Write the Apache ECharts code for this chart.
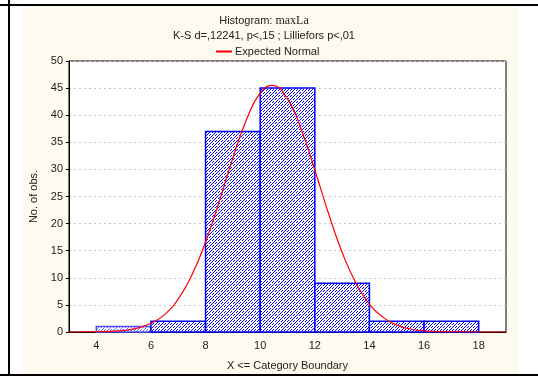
<!DOCTYPE html>
<html><head><meta charset="utf-8">
<script src="https://cdn.jsdelivr.net/npm/echarts@6/dist/echarts.min.js"></script>
<style>html,body{margin:0;padding:0;background:#fff}#c{width:538px;height:376px}</style>
</head><body><div id="c"></div>
<script>
// Histogram bins (X <= category boundary)
var binStart = [4, 6, 8, 10, 12, 14, 16];
var binEnd   = [6, 8, 10, 12, 14, 16, 18];
var counts   = [1, 2, 37, 45, 9, 2, 2];
// Expected normal curve
var curveX = [3, 3.5, 4, 4.5, 5, 5.5, 6, 6.5, 7, 7.5, 8, 8.5, 9, 9.5, 10, 10.43, 11, 11.5, 12, 12.5, 13, 13.5, 14, 14.5, 15, 15.5, 16, 16.5, 17, 17.5, 18, 18.5, 19];
var curveY = [0, 0.01, 0.04, 0.11, 0.29, 0.72, 1.6, 3.2, 6.1, 10.5, 16.6, 24.1, 32.1, 39.2, 44.1, 45.5, 43.0, 37.4, 29.9, 21.9, 14.7, 9.1, 5.1, 2.7, 1.3, 0.56, 0.23, 0.08, 0.03, 0.01, 0, 0, 0];
var xTicks = [4, 6, 8, 10, 12, 14, 16, 18];
var yTicks = [0, 5, 10, 15, 20, 25, 30, 35, 40, 45, 50];

var FONT = '"Liberation Sans", Arial, sans-serif';

function makePattern(color) {
  var n = 6;
  var cv = document.createElement('canvas');
  cv.width = n; cv.height = n;
  var ctx = cv.getContext('2d');
  ctx.fillStyle = '#ffffff'; ctx.fillRect(0, 0, n, n);
  ctx.fillStyle = color;
  for (var x = 0; x < n; x++) for (var y = 0; y < n; y++) {
    if ((x + y) % 3 === 2 && (((x - y) % 6) + 6) % 6 !== 0) ctx.fillRect(x, y, 1, 1);
  }
  return cv;
}
var pat = makePattern('#0000ff');
var patLight = makePattern('#7070ff');

var barData = binStart.map(function (s, i) { return [s, binEnd[i], counts[i]]; });
var curveData = curveX.map(function (x, i) { return [x, curveY[i]]; });

var chart = echarts.init(document.getElementById('c'), null, {renderer: 'canvas'});
chart.setOption({
  backgroundColor: '#ffffff',
  animation: false,
  graphic: [
    {type: 'rect', z: -10, shape: {x: 23, y: 6, width: 495, height: 368}, style: {fill: '#fffaef'}},
    {type: 'rect', z: -9, shape: {x: 0, y: 4, width: 538, height: 2}, style: {fill: '#000'}},
    {type: 'rect', z: -9, shape: {x: 0, y: 374, width: 538, height: 2}, style: {fill: '#000'}},
    {type: 'rect', z: -9, shape: {x: 8, y: 0, width: 2, height: 376}, style: {fill: '#000'}}
  ],
  title: {
    left: 262, top: 13, textAlign: 'center', itemGap: 3, padding: 2,
    text: '{a|Histogram: }{b|maxLa}',
    textStyle: {fontWeight: 'normal', rich: {
      a: {fontFamily: FONT, fontSize: 11, color: '#222', fontWeight: 'normal'},
      b: {fontFamily: '"Liberation Serif", "Times New Roman", serif', fontSize: 12, color: '#222', fontWeight: 'normal'}
    }},
    subtext: 'K-S d=,12241, p<,15 ; Lilliefors p<,01',
    subtextStyle: {fontFamily: FONT, fontSize: 11, color: '#222'}
  },
  legend: {
    left: 211, top: 41, itemWidth: 16, itemHeight: 2, itemGap: 5,
    data: [{name: 'Expected Normal', icon: 'rect'}],
    textStyle: {fontFamily: FONT, fontSize: 11, color: '#222', padding: [0, 0, 0, -2]}
  },
  grid: {left: 69, right: 32, top: 61, bottom: 42, show: true, backgroundColor: '#ffffff', borderColor: '#000', borderWidth: 1},
  xAxis: {
    type: 'value', min: 3, max: 19,
    name: 'X <= Category Boundary', nameLocation: 'middle', nameGap: 28,
    nameTextStyle: {fontFamily: FONT, fontSize: 11, color: '#222'},
    axisLine: {show: true, onZero: false, lineStyle: {color: '#000', width: 1}},
    axisTick: {show: false},
    splitLine: {show: false},
    axisLabel: {customValues: xTicks, fontFamily: FONT, fontSize: 11, color: '#222', margin: 8}
  },
  yAxis: {
    type: 'value', min: 0, max: 50, interval: 5,
    name: 'No. of obs.', nameLocation: 'middle', nameGap: 28,
    nameTextStyle: {fontFamily: FONT, fontSize: 11, color: '#222'},
    axisLine: {show: true, lineStyle: {color: '#000'}},
    axisTick: {show: true, length: 3, lineStyle: {color: '#000'}},
    splitLine: {show: true, lineStyle: {color: '#c8c8c8', type: [2, 3], width: 1}},
    axisLabel: {fontFamily: FONT, fontSize: 11, color: '#222', margin: 6}
  },
  series: [
    {
      type: 'custom', name: 'hist', z: 2,
      data: barData,
      encode: {x: [0, 1], y: 2},
      renderItem: function (params, api) {
        var p0 = api.coord([api.value(0), api.value(2)]);
        var p1 = api.coord([api.value(1), 0]);
        var light = params.dataIndex === 0;
        return {
          type: 'rect',
          shape: {x: p0[0], y: p0[1], width: p1[0] - p0[0], height: p1[1] - p0[1]},
          style: {
            fill: {image: light ? patLight : pat, repeat: 'repeat'},
            stroke: light ? '#5050ff' : '#0000ff', lineWidth: 1.5
          }
        };
      }
    },
    {
      type: 'line', name: 'Expected Normal', z: 5,
      data: curveData, smooth: true, showSymbol: false, symbol: 'none',
      lineStyle: {color: '#ff0000', width: 1.2},
      itemStyle: {color: '#ff0000'}
    }
  ]
});
</script>
</body></html>
